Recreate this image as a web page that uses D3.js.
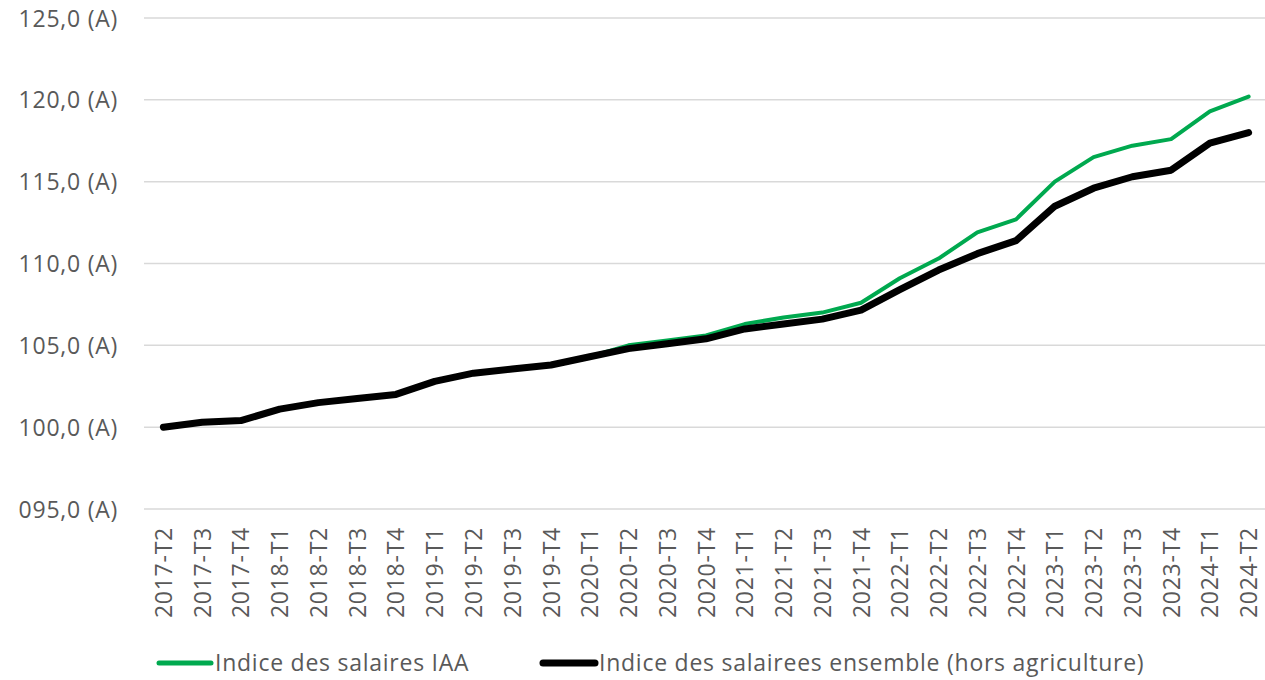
<!DOCTYPE html>
<html>
<head>
<meta charset="utf-8">
<script src="https://cdn.jsdelivr.net/npm/d3@7"></script>
<style>
  html, body { margin: 0; padding: 0; background: #fff; }
  svg { display: block; }
  text { font-family: "Open Sans", "DejaVu Sans", sans-serif; fill: #595959; letter-spacing: 0.75px; }
</style>
</head>
<body>
<svg id="chart" width="1265" height="680"></svg>
<script>
// Quarterly periods
const quarters = [
  "2017-T2","2017-T3","2017-T4","2018-T1","2018-T2","2018-T3","2018-T4",
  "2019-T1","2019-T2","2019-T3","2019-T4","2020-T1","2020-T2","2020-T3",
  "2020-T4","2021-T1","2021-T2","2021-T3","2021-T4","2022-T1","2022-T2",
  "2022-T3","2022-T4","2023-T1","2023-T2","2023-T3","2023-T4","2024-T1","2024-T2"
];

// Wage index, food industries (IAA)
const indiceIAA = [
  100.0, 100.3, 100.4, 101.1, 101.5, 101.8, 102.0,
  102.8, 103.3, 103.6, 103.8, 104.3, 105.0, 105.3,
  105.6, 106.3, 106.7, 107.0, 107.6, 109.1, 110.3,
  111.9, 112.7, 115.0, 116.5, 117.2, 117.6, 119.3, 120.2
];

// Wage index, all sectors excluding agriculture
const indiceEnsemble = [
  100.0, 100.3, 100.4, 101.1, 101.5, 101.75, 102.0,
  102.8, 103.3, 103.55, 103.8, 104.3, 104.8, 105.1,
  105.4, 106.0, 106.3, 106.6, 107.15, 108.4, 109.6,
  110.6, 111.4, 113.5, 114.6, 115.3, 115.7, 117.35, 118.0
];

const yTicks = [95, 100, 105, 110, 115, 120, 125];

const seriesNames = [
  "Indice des salaires IAA",
  "Indice des salairees ensemble (hors agriculture)"
];

const svg = d3.select("#chart");

const plot = { left: 144, right: 1268, top: 18, bottom: 509 };
const fontSize = "23px";

const x = d3.scalePoint()
  .domain(quarters)
  .range([plot.left, plot.right])
  .padding(0.5);

const y = d3.scaleLinear()
  .domain([95, 125])
  .range([plot.bottom, plot.top]);

const fmt = v => d3.format(".1f")(v).replace(".", ",").padStart(5, "0") + " (A)";

// Horizontal gridlines
svg.append("g")
  .selectAll("line")
  .data(yTicks)
  .join("line")
  .attr("x1", plot.left)
  .attr("x2", 1265)
  .attr("y1", d => y(d))
  .attr("y2", d => y(d))
  .attr("stroke", "#d9d9d9")
  .attr("stroke-width", 1.5);

// Y axis labels
const yAxis = d3.axisLeft(y).tickValues(yTicks).tickFormat(fmt).tickSize(0).tickPadding(0);
const gy = svg.append("g")
  .attr("transform", `translate(118,0)`)
  .call(yAxis);
gy.select(".domain").remove();
gy.selectAll("text")
  .style("font-size", fontSize)
  .attr("fill", "#595959")
  .attr("dy", "0.35em");

// X axis labels (rotated)
const xAxis = d3.axisBottom(x).tickSize(0).tickPadding(0);
const gx = svg.append("g")
  .attr("transform", `translate(0,527)`)
  .call(xAxis);
gx.select(".domain").remove();
gx.selectAll("text")
  .style("font-size", fontSize)
  .attr("fill", "#595959")
  .attr("text-anchor", "end")
  .attr("transform", "rotate(-90)")
  .attr("x", 0)
  .attr("y", 0)
  .attr("dy", "0.35em");

const line = d3.line()
  .x((d, i) => x(quarters[i]))
  .y(d => y(d));

svg.append("path")
  .datum(indiceIAA)
  .attr("d", line)
  .attr("fill", "none")
  .attr("stroke", "#00a94f")
  .attr("stroke-width", 4)
  .attr("stroke-linejoin", "round")
  .attr("stroke-linecap", "round");

svg.append("path")
  .datum(indiceEnsemble)
  .attr("d", line)
  .attr("fill", "none")
  .attr("stroke", "#000000")
  .attr("stroke-width", 7)
  .attr("stroke-linejoin", "round")
  .attr("stroke-linecap", "round");

// Legend
const legendItems = [
  { name: seriesNames[0], color: "#00a94f", width: 5, x: 157 },
  { name: seriesNames[1], color: "#000000", width: 7, x: 541 }
];
const lg = svg.append("g").attr("transform", "translate(0,663)");
legendItems.forEach(it => {
  lg.append("line")
    .attr("x1", it.x + 2).attr("x2", it.x + 54)
    .attr("y1", 0).attr("y2", 0)
    .attr("stroke", it.color)
    .attr("stroke-width", it.width)
    .attr("stroke-linecap", "round");
  lg.append("text")
    .attr("x", it.x + 58)
    .attr("y", 0)
    .attr("dy", "0.35em")
    .style("font-size", fontSize)
    .text(it.name);
});
</script>
</body>
</html>
